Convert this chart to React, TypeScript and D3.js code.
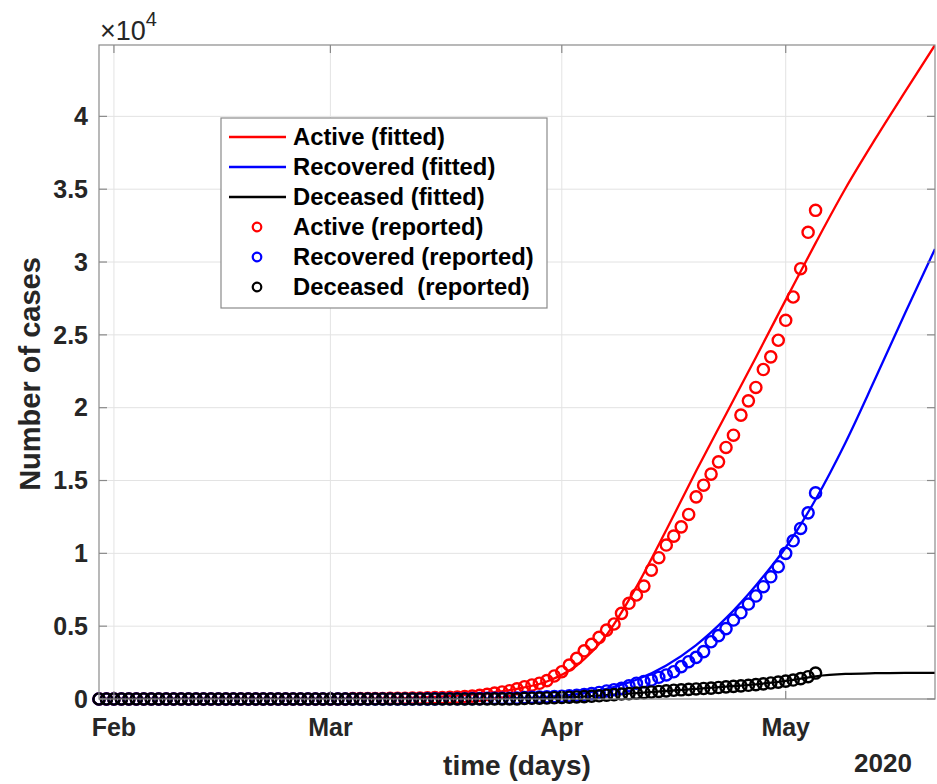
import * as d3 from 'd3'

const DAY = 86400000
const FEB1 = Date.UTC(2020, 1, 1)

// reported counts, one per day starting 30 Jan 2020 (day -2 from 1 Feb)
const reportedStartDay = -2
const activeReported = [
  1, 1, 1, 2,
  3, 3, 3, 3, 3, 3, 3, 3, 3, 3, 3,
  0, 0, 0, 0, 0, 0, 0, 0, 0, 0, 0, 0, 0, 0, 0, 0, 0,
  2, 3, 25, 26, 28, 31, 36, 40, 43, 56, 58, 70, 76, 95, 100, 117, 130, 160, 200, 250, 320, 400, 480, 570, 700,
  840, 960, 1080, 1260, 1580, 1870, 2330, 2790, 3310, 3750, 4230, 4730, 5150, 5880, 6570, 7140, 7750, 8850, 9700, 10570,
  11180, 11820, 12670, 13880, 14680, 15440, 16280, 17270, 18110, 19490, 20470, 21390, 22620, 23490, 24630, 26000,
  27600, 29540, 32040, 33550,
]
const recoveredReported = [
  0, 0, 0, 0, 0, 0, 0, 0, 0, 0, 0, 0, 0, 0, 0,
  3, 3, 3, 3, 3, 3, 3, 3, 3, 3, 3, 3, 3, 3, 3, 3, 3,
  3, 3, 3, 3, 3, 3, 3, 3, 3, 4, 4, 4, 10, 10, 13, 14, 15, 20, 23, 27, 40, 43, 45, 50, 60,
  100, 110, 130, 150, 170, 190, 220, 260, 310, 370, 450, 550, 640, 730, 910, 1080, 1190, 1300, 1490, 1650,
  1870, 2220, 2560, 2860, 3250, 3930, 4350, 4830, 5420, 5920, 6520, 7070, 7710, 8390, 9080, 10000,
  10860, 11710, 12780, 14150,
]
const deceasedReported = [
  0, 0, 0, 0, 0, 0, 0, 0, 0, 0, 0, 0, 0, 0, 0, 0, 0, 0, 0, 0, 0,
  0, 0, 0, 0, 0, 0, 0, 0, 0, 0, 0, 0, 0, 0, 0, 0, 0, 0, 0, 0, 0, 0,
  1, 1, 2, 2, 2, 3, 4, 4, 5, 7, 8, 9, 10, 12,
  40, 50, 60, 70, 85, 100, 120, 140, 165, 190, 220, 260, 300, 340, 370, 400, 440, 480, 520, 560,
  600, 630, 660, 690, 720, 750, 790, 830, 870, 900, 940, 990, 1040, 1100, 1160, 1230,
  1300, 1400, 1530, 1780,
]

// fitted model curves, sampled on these days (counted from 1 Feb 2020)
const fitDays = [-2, 10, 20, 30, 35, 40, 45, 50, 54, 58, 62, 66, 70, 74, 78, 82, 86, 90, 94, 98, 102, 106, 110]
const activeFitted = [0, 0, 0, 5, 20, 80, 200, 400, 700, 1200, 2300, 4400, 7700, 11600, 15650, 19550, 23450, 27400, 31300, 35050, 38450, 41700, 44900]
const recoveredFitted = [0, 0, 0, 0, 2, 5, 10, 25, 50, 140, 330, 700, 1320, 2300, 3700, 5550, 7800, 10400, 13700, 17600, 22000, 26500, 30900]
const deceasedFitted = [0, 0, 0, 0, 0, 0, 3, 10, 25, 65, 140, 260, 400, 550, 700, 850, 1010, 1240, 1560, 1720, 1770, 1790, 1800]

const yTicks = [0, 5000, 10000, 15000, 20000, 25000, 30000, 35000, 40000]
const yTickLabels = ['0', '0.5', '1', '1.5', '2', '2.5', '3', '3.5', '4']
const monthTicks = [Date.UTC(2020, 1, 1), Date.UTC(2020, 2, 1), Date.UTC(2020, 3, 1), Date.UTC(2020, 4, 1)]
const monthLabels = ['Feb', 'Mar', 'Apr', 'May']

const legendItems = [
  { label: 'Active (fitted)', color: '#ff0000', kind: 'line' },
  { label: 'Recovered (fitted)', color: '#0000ff', kind: 'line' },
  { label: 'Deceased (fitted)', color: '#000000', kind: 'line' },
  { label: 'Active (reported)', color: '#ff0000', kind: 'marker' },
  { label: 'Recovered (reported)', color: '#0000ff', kind: 'marker' },
  { label: 'Deceased  (reported)', color: '#000000', kind: 'marker' },
]

const W = 937
const H = 784
const left = 99
const right = 935
const top = 45
const bottom = 699
const FONT = '"Liberation Sans", Arial, Helvetica, sans-serif'
const TEXT = '#262626'
const AXIS = '#8a8a8a'
const GRID = '#e3e3e3'

export default function App() {
  const x = d3
    .scaleUtc()
    .domain([new Date(Date.UTC(2020, 0, 30)), new Date(Date.UTC(2020, 4, 21))])
    .range([left, right])
  const y = d3.scaleLinear().domain([0, 44900]).range([bottom, top])

  const dayX = (d: number) => x(new Date(FEB1 + d * DAY))

  const line = d3
    .line<[number, number]>()
    .x((p) => dayX(p[0]))
    .y((p) => y(p[1]))
    .curve(d3.curveMonotoneX)

  const fitted = [
    { vals: activeFitted, color: '#ff0000' },
    { vals: recoveredFitted, color: '#0000ff' },
    { vals: deceasedFitted, color: '#000000' },
  ]
  const reported = [
    { vals: activeReported, color: '#ff0000' },
    { vals: recoveredReported, color: '#0000ff' },
    { vals: deceasedReported, color: '#000000' },
  ]

  const legX = 221
  const legY = 118
  const legW = 326
  const legH = 190
  const rowH = 30

  return (
    <svg
      width={W}
      height={H}
      style={{ position: 'absolute', left: 0, top: 0, background: '#fff' }}
      fontFamily={FONT}
    >
      <defs>
        <clipPath id="plot-clip">
          <rect x={left} y={top} width={right - left} height={bottom - top} />
        </clipPath>
      </defs>
      <rect x={left} y={top} width={right - left} height={bottom - top} fill="#fff" />

      {/* grid */}
      {yTicks.map((t) => (
        <line key={'gy' + t} x1={left} x2={right} y1={y(t)} y2={y(t)} stroke={GRID} strokeWidth={1} />
      ))}
      {monthTicks.map((t) => (
        <line key={'gx' + t} x1={x(new Date(t))} x2={x(new Date(t))} y1={top} y2={bottom} stroke={GRID} strokeWidth={1} />
      ))}

      {/* fitted curves */}
      <g clipPath="url(#plot-clip)">
        {fitted.map((s) => (
          <path
            key={s.color}
            d={line(fitDays.map((d, i) => [d, s.vals[i]] as [number, number])) || ''}
            fill="none"
            stroke={s.color}
            strokeWidth={2.3}
            strokeLinejoin="round"
          />
        ))}
      </g>

      {/* reported data */}
      {reported.map((s) => (
        <g key={'r' + s.color}>
          {s.vals.map((v, i) => (
            <circle
              key={i}
              cx={dayX(reportedStartDay + i)}
              cy={y(v)}
              r={5.6}
              fill="none"
              stroke={s.color}
              strokeWidth={2.4}
            />
          ))}
        </g>
      ))}

      {/* frame and ticks */}
      <rect x={left} y={top} width={right - left} height={bottom - top} fill="none" stroke={AXIS} strokeWidth={1.2} />
      {yTicks.map((t) => (
        <g key={'ty' + t}>
          <line x1={left} x2={left + 8} y1={y(t)} y2={y(t)} stroke={AXIS} strokeWidth={1.2} />
          <line x1={right} x2={right - 8} y1={y(t)} y2={y(t)} stroke={AXIS} strokeWidth={1.2} />
        </g>
      ))}
      {monthTicks.map((t) => (
        <g key={'tx' + t}>
          <line x1={x(new Date(t))} x2={x(new Date(t))} y1={bottom} y2={bottom - 8} stroke={AXIS} strokeWidth={1.2} />
          <line x1={x(new Date(t))} x2={x(new Date(t))} y1={top} y2={top + 8} stroke={AXIS} strokeWidth={1.2} />
        </g>
      ))}

      {/* tick labels */}
      {yTicks.map((t, i) => (
        <text key={'ly' + t} x={left - 11} y={y(t)} dy="0.35em" textAnchor="end" fontSize={25} fontWeight="bold" fill={TEXT}>
          {yTickLabels[i]}
        </text>
      ))}
      {monthTicks.map((t, i) => (
        <text key={'lx' + t} x={x(new Date(t))} y={736} textAnchor="middle" fontSize={25} fontWeight="bold" fill={TEXT}>
          {monthLabels[i]}
        </text>
      ))}
      <text x={883} y={772} textAnchor="middle" fontSize={26} fontWeight="bold" fill={TEXT}>
        2020
      </text>
      <text x={100} y={40} fontSize={27} fill={TEXT}>
        ×10
        <tspan fontSize={20} dy={-14}>
          4
        </tspan>
      </text>

      {/* axis titles */}
      <text x={517} y={775} textAnchor="middle" fontSize={28} fontWeight="bold" fill={TEXT}>
        time (days)
      </text>
      <text
        transform={`translate(40, ${(top + bottom) / 2 + 2}) rotate(-90)`}
        textAnchor="middle"
        fontSize={29}
        fontWeight="bold"
        fill={TEXT}
      >
        Number of cases
      </text>

      {/* legend */}
      <rect x={legX} y={legY} width={legW} height={legH} fill="#fff" stroke={AXIS} strokeWidth={1.2} />
      {legendItems.map((it, i) => {
        const cy = legY + 19 + i * rowH
        return (
          <g key={it.label}>
            {it.kind === 'line' ? (
              <line x1={229} x2={286} y1={cy} y2={cy} stroke={it.color} strokeWidth={2.3} />
            ) : (
              <circle cx={257} cy={cy} r={4.3} fill="none" stroke={it.color} strokeWidth={2.2} />
            )}
            <text x={293} y={cy} dy="0.35em" fontSize={23.8} fontWeight="bold" fill="#000" style={{ whiteSpace: 'pre' }}>
              {it.label}
            </text>
          </g>
        )
      })}
    </svg>
  )
}
